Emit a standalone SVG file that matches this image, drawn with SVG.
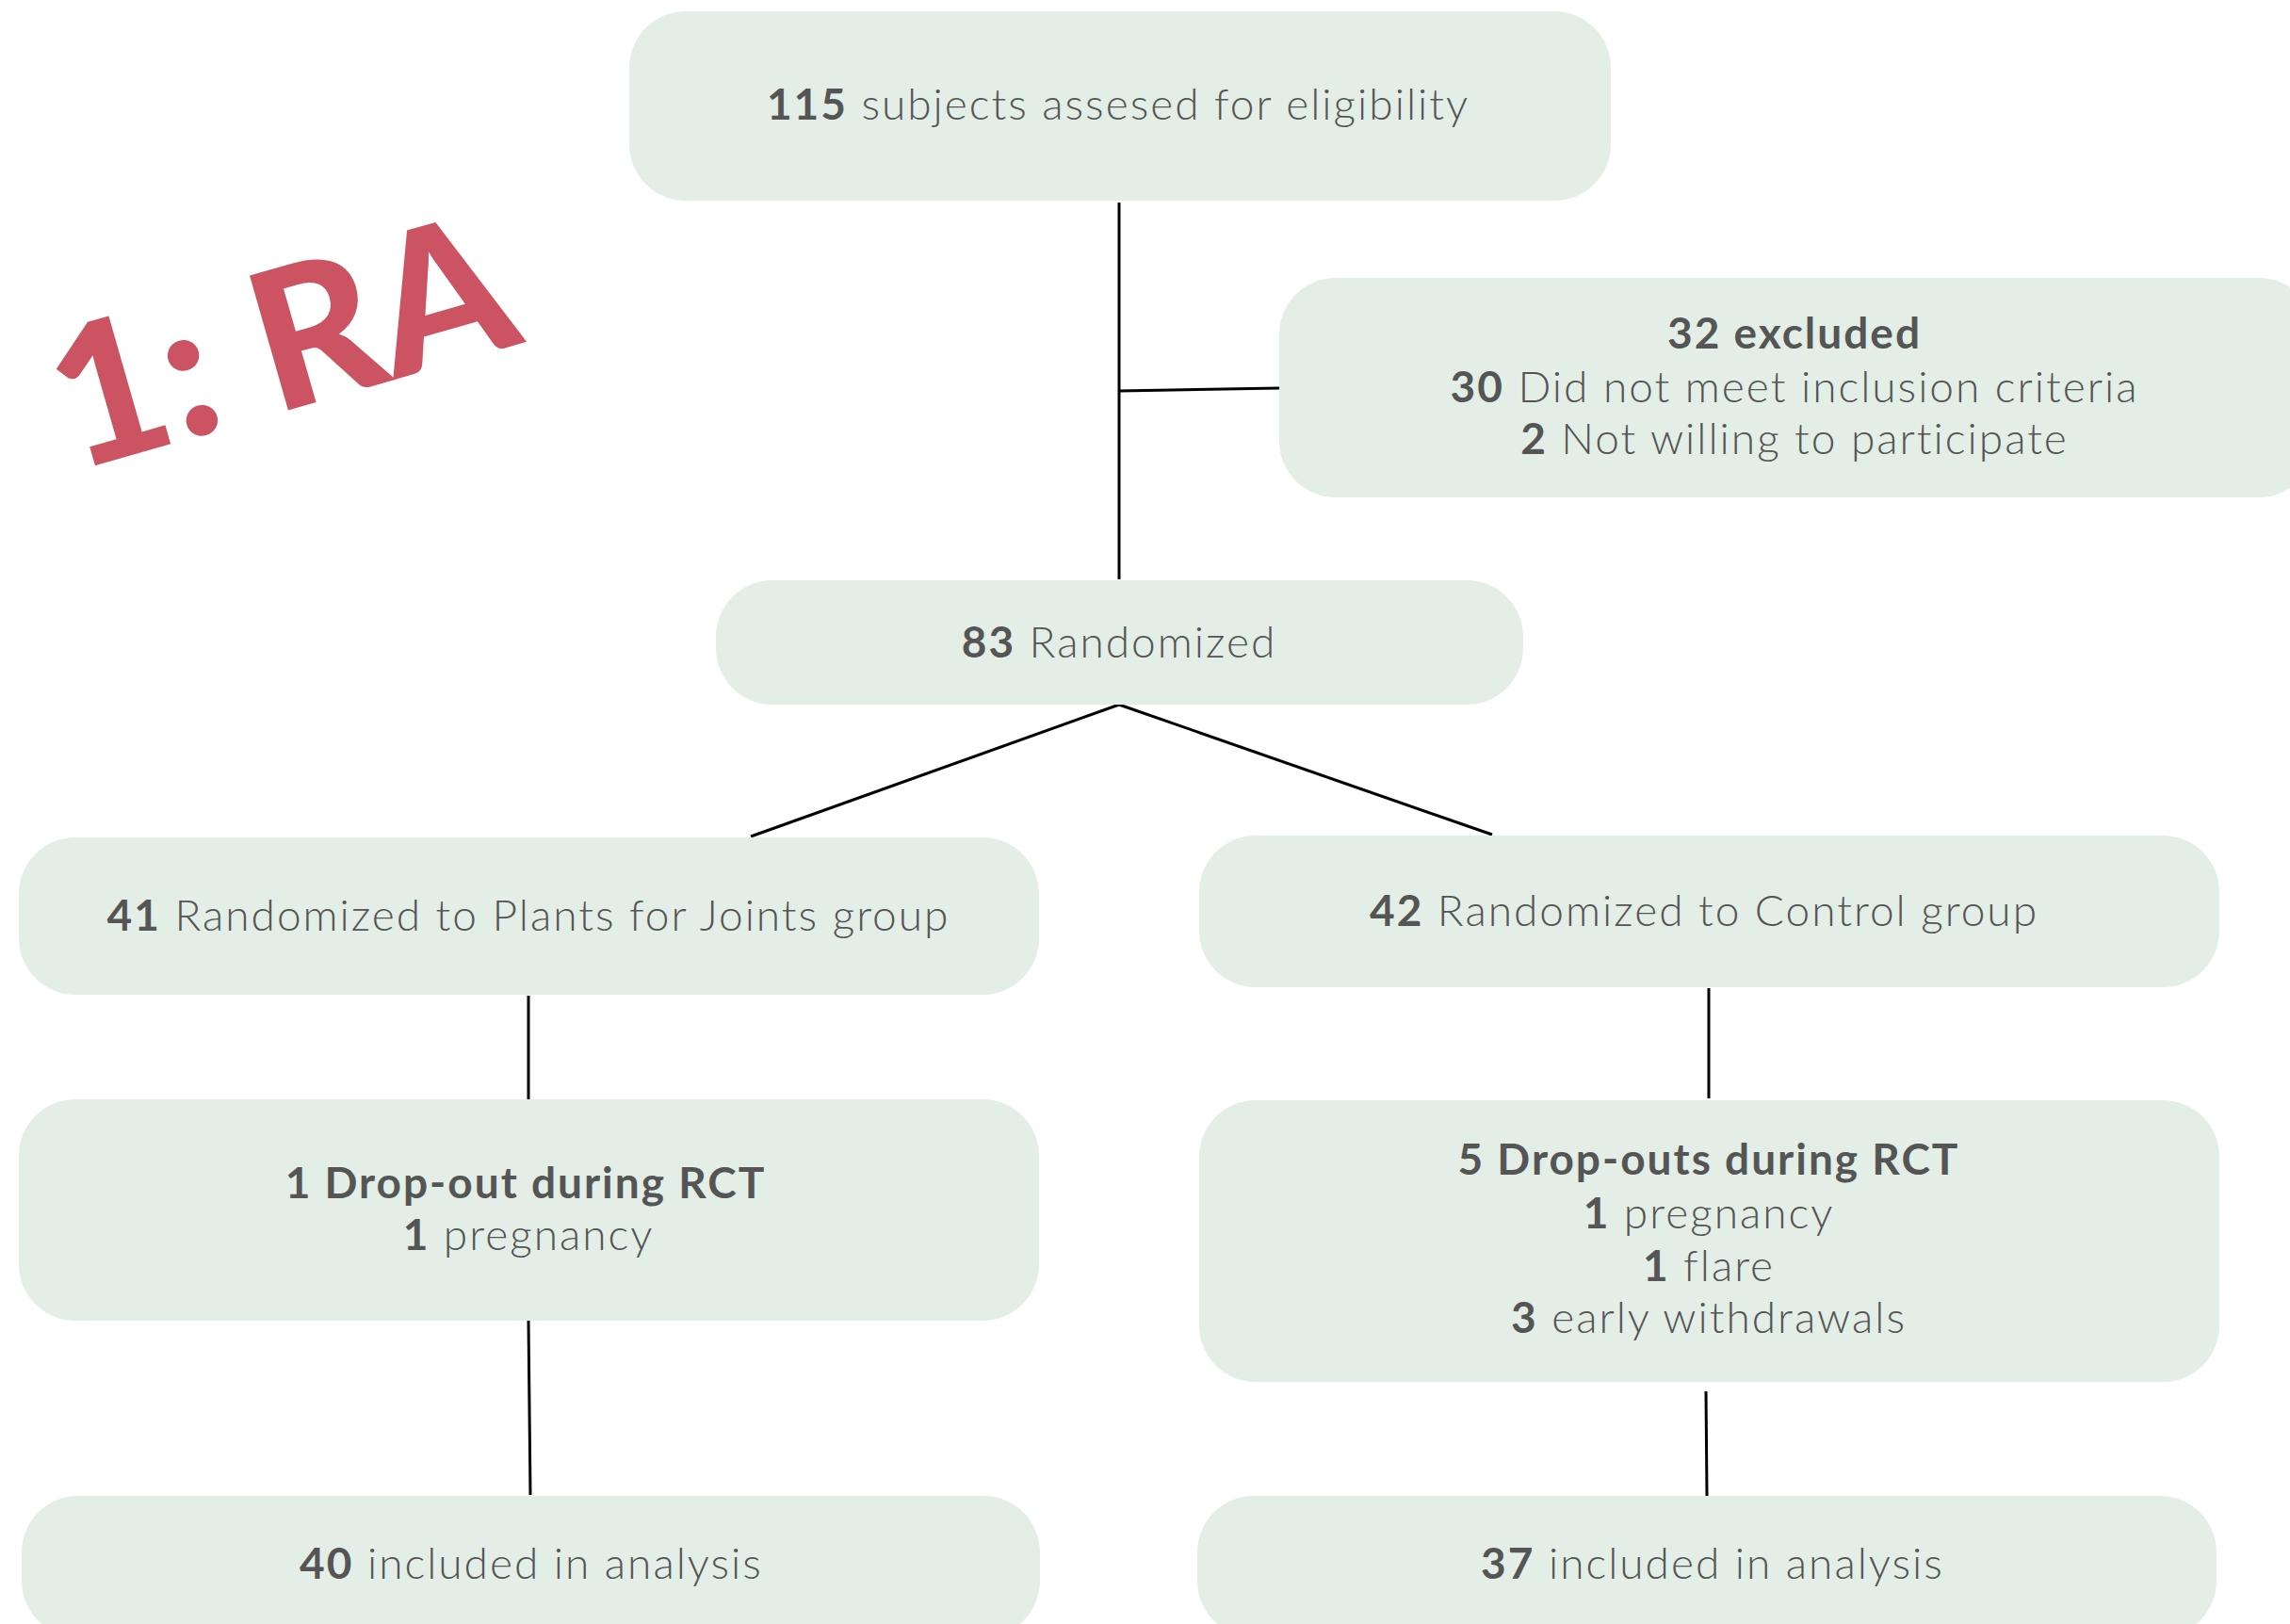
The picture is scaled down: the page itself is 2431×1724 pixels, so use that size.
<svg xmlns="http://www.w3.org/2000/svg" width="2431" height="1724" viewBox="0 0 2431 1724">
<style>
.box{fill:#e3eee6;}
.t{font-family:Lato,"Open Sans","Liberation Sans",sans-serif;font-size:46px;font-weight:300;letter-spacing:2px;fill:#555555;text-anchor:middle;}
.b{font-weight:700;}
.c{stroke:#000;stroke-width:3;fill:none;stroke-linecap:butt;}
.title{font-family:Lato,"Liberation Sans",sans-serif;font-weight:900;font-size:205px;fill:#cc5462;text-anchor:middle;}
</style>
<rect width="2431" height="1724" fill="#ffffff"/>
<g id="title"><text class="title" transform="translate(318,432) rotate(-16)">1: RA</text></g>
<g id="connectors">
<path class="c" d="M1188 215 V615"/>
<path class="c" d="M1188 415 L1358 412"/>
<path class="c" d="M1188 748 L797 888"/>
<path class="c" d="M1188 748 L1584 886"/>
<path class="c" d="M561 1057 V1167"/>
<path class="c" d="M561 1402 L563 1587"/>
<path class="c" d="M1814 1049 V1166"/>
<path class="c" d="M1811 1477 L1812 1588"/>
</g>
<g id="n-assessed"><rect class="box" x="668" y="12" width="1042" height="201" rx="60"/>
<text class="t" x="1187" y="127"><tspan class="b">115</tspan> subjects assesed for eligibility</text></g>
<g id="n-excluded"><rect class="box" x="1358" y="295" width="1100" height="233" rx="60"/>
<text class="t" x="1905" y="370"><tspan class="b">32 excluded</tspan></text>
<text class="t" x="1905" y="427"><tspan class="b">30</tspan> Did not meet inclusion criteria</text>
<text class="t" x="1905" y="482"><tspan class="b">2</tspan> Not willing to participate</text></g>
<g id="n-randomized"><rect class="box" x="760" y="616" width="857" height="132" rx="60"/>
<text class="t" x="1188" y="698"><tspan class="b">83</tspan> Randomized</text></g>
<g id="n-pfj"><rect class="box" x="20" y="889" width="1083" height="167" rx="60"/>
<text class="t" x="561" y="988"><tspan class="b">41</tspan> Randomized to Plants for Joints group</text></g>
<g id="n-control"><rect class="box" x="1273" y="887" width="1083" height="161" rx="60"/>
<text class="t" x="1809" y="983"><tspan class="b">42</tspan> Randomized to Control group</text></g>
<g id="n-drop-left"><rect class="box" x="20" y="1167" width="1083" height="235" rx="60"/>
<text class="t" x="558" y="1272"><tspan class="b">1 Drop-out during RCT</tspan></text>
<text class="t" x="561" y="1327"><tspan class="b">1</tspan> pregnancy</text></g>
<g id="n-drop-right"><rect class="box" x="1273" y="1168" width="1083" height="299" rx="60"/>
<text class="t" x="1814" y="1247"><tspan class="b">5 Drop-outs during RCT</tspan></text>
<text class="t" x="1814" y="1304"><tspan class="b">1</tspan> pregnancy</text>
<text class="t" x="1814" y="1360"><tspan class="b">1</tspan> flare</text>
<text class="t" x="1814" y="1415"><tspan class="b">3</tspan> early withdrawals</text></g>
<g id="n-incl-left"><rect class="box" x="23" y="1588" width="1081" height="150" rx="60"/>
<text class="t" x="564" y="1676"><tspan class="b">40</tspan> included in analysis</text></g>
<g id="n-incl-right"><rect class="box" x="1271" y="1588" width="1082" height="150" rx="60"/>
<text class="t" x="1818" y="1676"><tspan class="b">37</tspan> included in analysis</text></g>
</svg>
